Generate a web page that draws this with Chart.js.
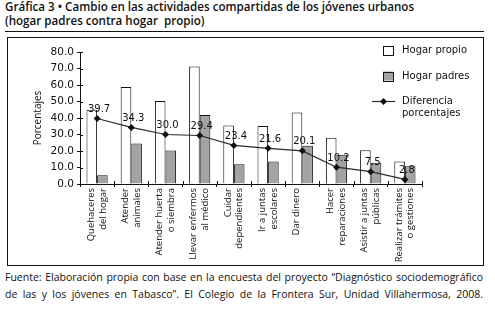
<!DOCTYPE html>
<html lang="es">
<head>
    <meta charset="UTF-8">
    <title>Gráfica 3</title>
    <script src="https://cdn.jsdelivr.net/npm/chart.js"></script>
    <style>
        body { margin: 0; width: 495px; height: 309px; background: #fff; position: relative; overflow: hidden; font-family: "Open Sans", sans-serif; color: #111; }
        .titulo { position: absolute; left: 5px; top: 0px; font-size: 11.6px; font-weight: 600; line-height: 14.4px; }
        .linea { position: absolute; left: 5px; width: 479px; top: 31px; height: 1px; background: #111; }
        .caja { position: absolute; left: 7px; top: 37px; width: 477px; height: 229px; box-sizing: border-box; border: 1px solid #111; }
        .grafica { position: absolute; left: 0; top: 0; width: 475px; height: 227px; }
        .fuente { position: absolute; left: 5px; width: 478px; top: 269px; font-size: 10.5px; line-height: 16.5px; }
        .fuente div { text-align: justify; text-align-last: justify; white-space: nowrap; }
    </style>
</head>
<body>
    <div class="titulo">
        Gráfica 3 • Cambio en las actividades compartidas de los jóvenes urbanos<br>
        (hogar padres contra hogar&nbsp; propio)
    </div>
    <div class="linea"></div>
    <div class="caja">
        <div class="grafica"><canvas id="grafica3"></canvas></div>
    </div>
    <div class="fuente">
        <div>Fuente: Elaboración propia con base en la encuesta del proyecto “Diagnóstico sociodemográfico</div>
        <div>de las y los jóvenes en Tabasco”. El Colegio de la Frontera Sur, Unidad Villahermosa, 2008.</div>
    </div>

    <script>
        // datos
        const actividades = [
            ['Quehaceres', 'del hogar'],
            ['Atender', 'animales'],
            ['Atender huerta', 'o siembra'],
            ['Llevar enfermos', 'al médico'],
            ['Cuidar', 'dependientes'],
            ['Ir a juntas', 'escolares'],
            'Dar dinero',
            ['Hacer', 'reparaciones'],
            ['Asistir a juntas', 'públicas'],
            ['Realizar trámites', 'o gestiones']
        ];
        const hogarPropio = [45.0, 58.8, 50.3, 71.2, 35.4, 35.2, 43.3, 28.0, 20.4, 13.6];
        const hogarPadres = [5.3, 24.5, 20.3, 41.8, 12.0, 13.6, 23.2, 17.8, 12.9, 10.8];
        const diferencia = [39.7, 34.3, 30.0, 29.4, 23.4, 21.6, 20.1, 10.2, 7.5, 2.8];
        const yMin = 0, yMax = 80, yPaso = 10;

        const fuenteNum = '"DejaVu Sans", sans-serif';

        // marcas de los ejes que cruzan hacia dentro
        const marcasInternas = {
            id: 'marcasInternas',
            afterDraw(chart) {
                const ctx = chart.ctx;
                const area = chart.chartArea;
                const x = chart.scales.x, y = chart.scales.y;
                ctx.save();
                ctx.strokeStyle = '#111';
                ctx.lineWidth = 1;
                ctx.beginPath();
                y.ticks.forEach((t, i) => {
                    const py = Math.round(y.getPixelForTick(i)) + 0.5;
                    ctx.moveTo(area.left, py);
                    ctx.lineTo(area.left + 3, py);
                });
                for (let i = 0; i <= x.ticks.length; i++) {
                    const px = Math.round(area.left + i * (area.right - area.left) / x.ticks.length) + 0.5;
                    ctx.moveTo(px, area.bottom);
                    ctx.lineTo(px, area.bottom - 3);
                }
                ctx.stroke();
                ctx.restore();
            }
        };

        // etiquetas de la diferencia
        const etiquetas = {
            id: 'etiquetas',
            afterDatasetsDraw(chart) {
                const ctx = chart.ctx;
                const meta = chart.getDatasetMeta(2);
                ctx.save();
                ctx.font = '10px ' + fuenteNum;
                ctx.fillStyle = '#111';
                ctx.textAlign = 'center';
                ctx.textBaseline = 'middle';
                meta.data.forEach((p, i) => {
                    ctx.fillText(diferencia[i].toFixed(1), p.x + 2, p.y - 9);
                });
                ctx.restore();
            }
        };

        // leyenda dentro del area
        const leyenda = {
            id: 'leyenda',
            afterDraw(chart) {
                const ctx = chart.ctx;
                const ds = chart.data.datasets;
                const x0 = chart.chartArea.right - 39;
                const xt = x0 + 19;
                ctx.save();
                ctx.font = '10px ' + fuenteNum;
                ctx.textBaseline = 'middle';
                ctx.lineWidth = 1;
                ctx.strokeStyle = '#111';
                [[ds[0], 12.5], [ds[1], 38]].forEach(([d, yc]) => {
                    ctx.fillStyle = d.backgroundColor;
                    ctx.fillRect(x0, yc - 4.5, 10, 9);
                    ctx.strokeRect(x0 + 0.5, Math.round(yc - 4.5) + 0.5, 10, 9);
                    ctx.fillStyle = '#111';
                    ctx.fillText(d.label, xt, yc);
                });
                const yl = 63.5;
                ctx.strokeStyle = ds[2].borderColor;
                ctx.lineWidth = 1.2;
                ctx.beginPath();
                ctx.moveTo(x0 - 11, yl);
                ctx.lineTo(x0 + 12, yl);
                ctx.stroke();
                ctx.fillStyle = '#111';
                ctx.beginPath();
                ctx.moveTo(x0 + 0.5, yl - 3.5);
                ctx.lineTo(x0 + 4, yl);
                ctx.lineTo(x0 + 0.5, yl + 3.5);
                ctx.lineTo(x0 - 3, yl);
                ctx.closePath();
                ctx.fill();
                ctx.fillText('Diferencia', xt, 63);
                ctx.fillText('porcentajes', xt, 75.5);
                ctx.restore();
            }
        };

        const yTicks = [];
        for (let v = yMin; v <= yMax; v += yPaso) yTicks.push(v);

        new Chart(document.getElementById('grafica3'), {
            data: {
                labels: actividades,
                datasets: [
                    {
                        type: 'bar',
                        label: 'Hogar propio',
                        data: hogarPropio,
                        backgroundColor: '#ffffff',
                        borderColor: '#111',
                        borderWidth: 1,
                        categoryPercentage: 0.62,
                        barPercentage: 1.0,
                        order: 2
                    },
                    {
                        type: 'bar',
                        label: 'Hogar padres',
                        data: hogarPadres,
                        backgroundColor: '#a3a3a3',
                        borderColor: '#111',
                        borderWidth: 1,
                        categoryPercentage: 0.62,
                        barPercentage: 1.0,
                        order: 2
                    },
                    {
                        type: 'line',
                        label: 'Diferencia porcentajes',
                        data: diferencia,
                        borderColor: '#2a2a2a',
                        borderWidth: 1.2,
                        pointStyle: 'rectRot',
                        pointRadius: 3.5,
                        pointBackgroundColor: '#111',
                        pointBorderColor: '#111',
                        pointBorderWidth: 0,
                        tension: 0,
                        order: 1
                    }
                ]
            },
            options: {
                responsive: true,
                maintainAspectRatio: false,
                animation: false,
                layout: { padding: { top: 14, right: 61, left: 0, bottom: 0 } },
                plugins: {
                    legend: { display: false },
                    tooltip: { enabled: false }
                },
                scales: {
                    x: {
                        grid: { drawOnChartArea: false, tickLength: 3, color: '#111', offset: true },
                        border: { color: '#111', width: 1 },
                        ticks: {
                            minRotation: 90,
                            maxRotation: 90,
                            autoSkip: false,
                            padding: 1,
                            labelOffset: -6,
                            color: '#111',
                            font: { family: '"Open Sans", sans-serif', size: 9.5, lineHeight: 1.25 }
                        },
                        afterFit(scale) { scale.height = 81; }
                    },
                    y: {
                        min: yMin,
                        max: yMax,
                        grid: { drawOnChartArea: false, tickLength: 3, color: '#111' },
                        border: { color: '#111', width: 1 },
                        afterBuildTicks(scale) { scale.ticks = yTicks.map(v => ({ value: v })); },
                        ticks: {
                            padding: 3,
                            color: '#111',
                            font: { family: fuenteNum, size: 10.5 },
                            callback: v => v.toFixed(1)
                        },
                        title: {
                            display: true,
                            text: 'Porcentajes',
                            color: '#111',
                            padding: { top: 24, bottom: 0 },
                            font: { family: '"Open Sans", sans-serif', size: 10, lineHeight: 1.2 }
                        },
                        afterFit(scale) { scale.width = 72; }
                    }
                }
            },
            plugins: [marcasInternas, etiquetas, leyenda]
        });
    </script>
</body>
</html>
